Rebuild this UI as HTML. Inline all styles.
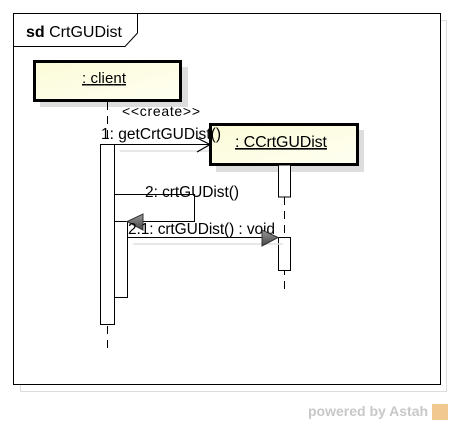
<!DOCTYPE html>
<html><head><style>
body{margin:0;width:453px;height:424px;background:#fff;overflow:hidden;font-family:"Liberation Sans",sans-serif}
</style></head><body>
<svg width="453" height="424" xmlns="http://www.w3.org/2000/svg" font-family="Liberation Sans, sans-serif">
<defs>
<linearGradient id="g" x1="0" y1="0" x2="1" y2="1"><stop offset="0" stop-color="#fbfbd8"/><stop offset="1" stop-color="#fffff2"/></linearGradient>
<linearGradient id="a" x1="0" y1="0" x2="0" y2="1"><stop offset="0" stop-color="#999"/><stop offset="1" stop-color="#444"/></linearGradient>
</defs>
<rect x="20.5" y="20.5" width="426" height="371" fill="none" stroke="#ddd"/>
<rect x="13.5" y="13.5" width="427" height="371" fill="#fff" stroke="#000"/>
<path d="M13.5 46.5 H125 L137.5 33 V13.5" fill="none" stroke="#000"/>
<text x="26" y="37" font-size="16"><tspan font-weight="bold">sd</tspan> CrtGUDist</text>
<rect x="40" y="67" width="148" height="40" fill="#ddd"/>
<rect x="34.5" y="61.5" width="146" height="39" fill="url(#g)" stroke="#000" stroke-width="3"/>
<text x="104" y="83" font-size="15" text-anchor="middle" text-decoration="underline" textLength="44">: client</text>
<line x1="107.5" y1="102" x2="107.5" y2="350" stroke="#000" stroke-dasharray="8,6"/>
<rect x="100.5" y="144.5" width="14" height="180" fill="#fff" stroke="#000"/>
<rect x="114.5" y="221.5" width="13" height="76" fill="#fff" stroke="#000"/>
<text x="122" y="116" font-size="14" textLength="78">&lt;&lt;create&gt;&gt;</text>
<line x1="120" y1="151" x2="214" y2="151" stroke="#e0e0e0" stroke-width="1.5"/>
<rect x="216" y="130" width="148" height="42" fill="#ddd"/>
<rect x="210.5" y="124.5" width="147" height="40" fill="url(#g)" stroke="#000" stroke-width="3"/>
<text x="235" y="147" font-size="16" text-decoration="underline" textLength="92">: CCrtGUDist</text>
<text x="101" y="139" font-size="15.5" textLength="120">1: getCrtGUDist()</text>
<line x1="114" y1="144.5" x2="210" y2="144.5" stroke="#000"/>
<path d="M197 138 L210 144.5 L197 152" fill="none" stroke="#000" stroke-width="1.2"/>
<line x1="284.5" y1="197" x2="284.5" y2="295" stroke="#000" stroke-dasharray="8,6"/>
<rect x="278.5" y="165" width="12" height="32" fill="#fff" stroke="#000"/>
<rect x="278.5" y="237.5" width="12" height="33" fill="#fff" stroke="#000"/>
<path d="M114 194.5 H194.5 V221.5 H127" fill="none" stroke="#000"/>
<text x="145" y="197" font-size="15.5" textLength="94">2: crtGUDist()</text>
<path d="M127 221.5 L143 214 L143 230 Z" fill="url(#a)" stroke="#333"/>
<text x="128" y="234" font-size="15.5" textLength="147">2.1: crtGUDist() : void</text>
<line x1="133" y1="244" x2="283" y2="244" stroke="#e0e0e0" stroke-width="1.5"/>
<line x1="127" y1="237.5" x2="278" y2="237.5" stroke="#000"/>
<path d="M278 237.5 L262 230 L262 246 Z" fill="url(#a)" stroke="#333"/>
<text x="308" y="416" font-size="14" font-weight="bold" fill="#c8c8c8">powered by Astah</text>
<rect x="432" y="404" width="16" height="16" fill="#f0c890"/>
</svg>
</body></html>
